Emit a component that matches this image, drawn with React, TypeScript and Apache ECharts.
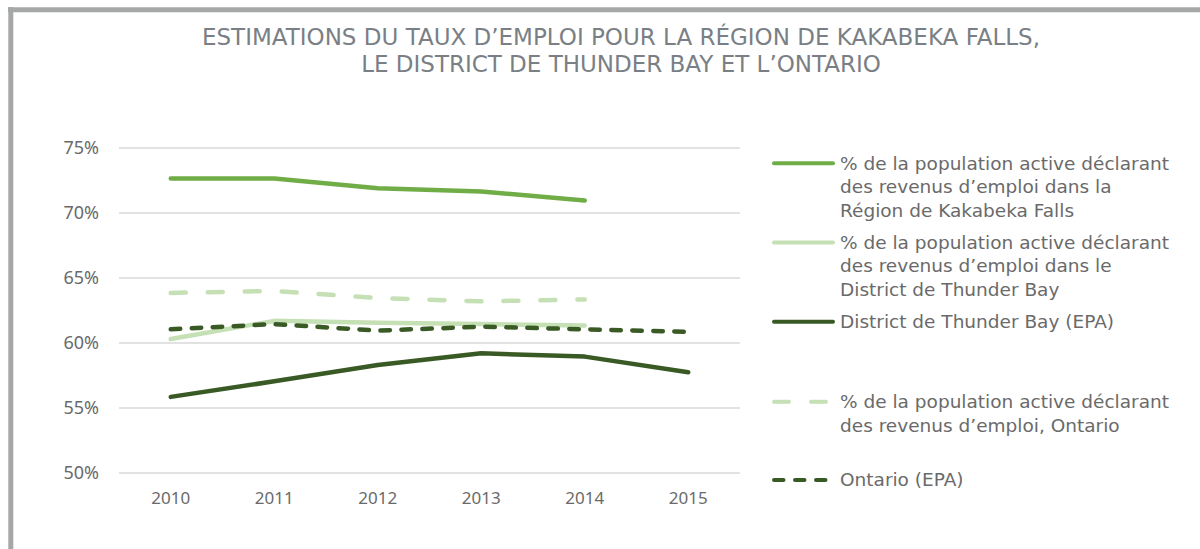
import React, { useEffect, useRef } from "react";
import * as echarts from "echarts";

const years = ["2010", "2011", "2012", "2013", "2014", "2015"];
const kakabeka = [72.6, 72.6, 71.85, 71.6, 70.9, null];
const thunderBayTax = [60.25, 61.65, 61.5, 61.4, 61.3, null];
const thunderBayLFS = [55.8, 57.0, 58.25, 59.15, 58.9, 57.7];
const ontarioTax = [63.8, 63.95, 63.4, 63.15, 63.3, null];
const ontarioLFS = [61.0, 61.4, 60.9, 61.2, 61.0, 60.8];

const seriesNames = [
  "% de la population active déclarant\ndes revenus d’emploi dans la\nRégion de Kakabeka Falls",
  "% de la population active déclarant\ndes revenus d’emploi dans le\nDistrict de Thunder Bay",
  "District de Thunder Bay (EPA)",
  "% de la population active déclarant\ndes revenus d’emploi, Ontario",
  "Ontario (EPA)",
];
const seriesColors = ["#70AD47", "#C5E0B4", "#3A5A25", "#C5E0B4", "#3A5A25"];
const seriesDash: (number[] | null)[] = [null, null, null, [15, 22], [9.5, 11.5]];
const seriesData = [kakabeka, thunderBayTax, thunderBayLFS, ontarioTax, ontarioLFS];
const legendRowY = [163.3, 242.5, 321.7, 401.7, 480];

const titleLines = [
  "ESTIMATIONS DU TAUX D’EMPLOI POUR LA RÉGION DE KAKABEKA FALLS,",
  "LE DISTRICT DE THUNDER BAY ET L’ONTARIO",
];

const FONT = "'Noto Sans', sans-serif";
const WIDE_FONT = "'DejaVu Sans', sans-serif";
const TEXT_COLOR = "#6a6a6a";

export default function App() {
  const ref = useRef<HTMLDivElement>(null);
  useEffect(() => {
    if (!ref.current) return;
    const chart = echarts.init(ref.current, null, { renderer: "svg" });
    const LW = 4.5;
    const legendGraphics: any[] = [];
    seriesNames.forEach((name, i) => {
      const y = legendRowY[i];
      legendGraphics.push({
        type: "line",
        shape: { x1: 774, y1: y, x2: 833, y2: y },
        style: {
          stroke: seriesColors[i],
          lineWidth: 4,
          lineCap: "round",
          lineDash: seriesDash[i] || undefined,
        },
      });
      legendGraphics.push({
        type: "text",
        x: 840,
        y: y - 11.7,
        style: {
          text: name,
          font: `18.5px ${WIDE_FONT}`,
          fill: TEXT_COLOR,
          lineHeight: 23.4,
          verticalAlign: "top",
          align: "left",
        },
      });
    });

    chart.setOption({
      animation: false,
      backgroundColor: "#ffffff",
      title: {
        text: titleLines.join("\n"),
        left: 621,
        top: 23.5,
        padding: 0,
        textAlign: "center",
        textStyle: {
          fontFamily: WIDE_FONT,
          fontSize: 23,
          fontWeight: "normal",
          color: "#7a7f85",
          lineHeight: 27,
        },
      },
      grid: { left: 119, right: 460, top: 147.3, bottom: 76.7, containLabel: false },
      xAxis: {
        type: "category",
        data: years,
        boundaryGap: true,
        axisLine: { show: false },
        axisTick: { show: false },
        axisLabel: { margin: 17, fontFamily: FONT, fontSize: 17, color: TEXT_COLOR },
      },
      yAxis: {
        type: "value",
        min: 50,
        max: 75,
        interval: 5,
        axisLine: { show: false },
        axisTick: { show: false },
        splitLine: { lineStyle: { color: "#d9d9d9", width: 1.5 } },
        axisLabel: {
          margin: 20,
          formatter: "{value}%",
          fontFamily: FONT,
          fontSize: 18,
          color: TEXT_COLOR,
        },
      },
      series: seriesNames.map((name, i) => ({
        name,
        type: "line",
        data: seriesData[i],
        symbol: "none",
        connectNulls: false,
        lineStyle: {
          color: seriesColors[i],
          width: LW,
          cap: "round",
          join: "round",
          type: seriesDash[i] ? seriesDash[i] : "solid",
        },
        itemStyle: { color: seriesColors[i] },
      })),
      graphic: [
        { type: "rect", shape: { x: 8, y: 7.3, width: 1192, height: 5 }, style: { fill: "#a5a8a6" } },
        { type: "rect", shape: { x: 8.3, y: 7.3, width: 5, height: 545 }, style: { fill: "#a5a8a6" } },
        ...legendGraphics,
      ],
    });
    return () => chart.dispose();
  }, []);
  return (
    <div style={{ position: "fixed", left: 0, top: 0, width: 1200, height: 549, background: "#fff" }}>
      <div ref={ref} style={{ width: 1200, height: 549 }} />
    </div>
  );
}
